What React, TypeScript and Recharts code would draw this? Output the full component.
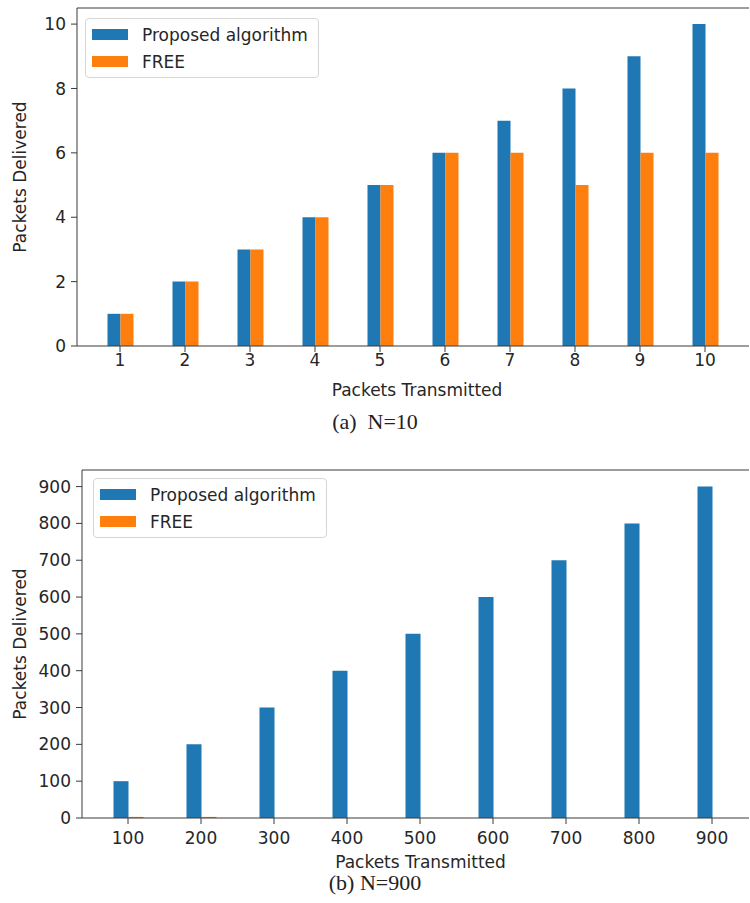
import { BarChart, Bar, XAxis, YAxis, Legend, ReferenceLine } from 'recharts'

// panel (a): N=10
const smallCategories = ['1', '2', '3', '4', '5', '6', '7', '8', '9', '10']
const smallProposed = [1, 2, 3, 4, 5, 6, 7, 8, 9, 10]
const smallFree = [1, 2, 3, 4, 5, 6, 6, 5, 6, 6]
const smallTicks = [0, 2, 4, 6, 8, 10]

// panel (b): N=900
const largeCategories = ['100', '200', '300', '400', '500', '600', '700', '800', '900']
const largeProposed = [100, 200, 300, 400, 500, 600, 700, 800, 900]
const largeFree = [3, 3, 0, 0, 0, 0, 0, 0, 0]
const largeTicks = [0, 100, 200, 300, 400, 500, 600, 700, 800, 900]

const seriesNames = ['Proposed algorithm', 'FREE']

const BLUE = '#1f77b4'
const ORANGE = '#ff7f0e'
const seriesColors = [BLUE, ORANGE]
const TEXT = '#262626'
const AXIS = '#3a3a3a'
const FONT = 'DejaVu Sans'

const smallData = smallCategories.map((c, i) => ({ name: c, proposed: smallProposed[i], free: smallFree[i] }))
const largeData = largeCategories.map((c, i) => ({ name: c, proposed: largeProposed[i], free: largeFree[i] }))

const renderLegend = () => (
  <div
    style={{
      border: '1px solid #d6d6d6',
      borderRadius: 4,
      background: '#fff',
      padding: '2px 10px 2px 6px',
      width: 216,
      fontFamily: FONT,
      whiteSpace: 'nowrap',
    }}
  >
    {seriesNames.map((n, i) => (
      <div key={n} style={{ display: 'flex', alignItems: 'center', height: 27 }}>
        <span style={{ display: 'inline-block', width: 36, height: 11, background: seriesColors[i], marginRight: 14 }} />
        <span style={{ fontSize: 17, color: TEXT }}>{n}</span>
      </div>
    ))}
  </div>
)

function Panel({ data, ticks, max, yWidth, plotHeight, padLeft, padRight, barSize, legendPos, tickGap, labelShift }: any) {
  return (
    <BarChart
      width={750}
      height={8 + plotHeight + 58}
      data={data}
      margin={{ top: 8, right: 1, left: 0, bottom: 0 }}
      barGap={0}
      accessibilityLayer={false}
    >
      <XAxis
        dataKey="name"
        height={58}
        padding={{ left: padLeft, right: padRight }}
        tick={{ fill: TEXT, fontSize: 17, fontFamily: FONT }}
        tickSize={6}
        tickMargin={tickGap}
        stroke={AXIS}
        label={{
          value: 'Packets Transmitted',
          position: 'insideBottom',
          offset: 8,
          dx: labelShift,
          fill: TEXT,
          fontSize: 17,
          fontFamily: FONT,
        }}
      />
      <YAxis
        width={yWidth}
        domain={[0, max]}
        ticks={ticks}
        interval={0}
        tick={{ fill: TEXT, fontSize: 17, fontFamily: FONT }}
        tickSize={6}
        tickMargin={5}
        stroke={AXIS}
        label={{
          value: 'Packets Delivered',
          angle: -90,
          position: 'insideLeft',
          offset: 20,
          fill: TEXT,
          fontSize: 17,
          fontFamily: FONT,
          style: { textAnchor: 'middle' },
        }}
      />
      {/* top spine */}
      <ReferenceLine y={max} stroke={AXIS} />
      <Legend
        layout="vertical"
        align="center"
        verticalAlign="middle"
        content={renderLegend}
        wrapperStyle={{ left: legendPos[0], top: legendPos[1], width: 240, height: 'auto' }}
      />
      <Bar dataKey="proposed" name={seriesNames[0]} fill={BLUE} barSize={barSize} isAnimationActive={false} />
      <Bar dataKey="free" name={seriesNames[1]} fill={ORANGE} barSize={barSize} isAnimationActive={false} />
    </BarChart>
  )
}

const captionStyle: any = {
  position: 'absolute',
  left: 0,
  width: 750,
  textAlign: 'center',
  fontFamily: 'Liberation Serif',
  fontSize: 22,
  color: '#222',
  lineHeight: '24px',
}

export default function App() {
  return (
    <div
      style={{
        position: 'absolute',
        left: 0,
        top: 0,
        width: 750,
        height: 903,
        overflow: 'hidden',
        background: '#fff',
      }}
    >
      <div style={{ position: 'absolute', left: 0, top: 0 }}>
        <Panel
          data={smallData}
          ticks={smallTicks}
          max={10.5}
          yWidth={77}
          plotHeight={338}
          padLeft={10.5}
          padRight={11.5}
          barSize={13}
          legendPos={[85, 18]}
          tickGap={2}
          labelShift={4}
        />
      </div>
      <div style={{ ...captionStyle, top: 410 }}>(a)&nbsp;&nbsp;N=10</div>
      <div style={{ position: 'absolute', left: 0, top: 462 }}>
        <Panel
          data={largeData}
          ticks={largeTicks}
          max={945}
          yWidth={82}
          plotHeight={348}
          padLeft={9.5}
          padRight={0.5}
          barSize={15}
          legendPos={[93, 16]}
          tickGap={8}
          labelShift={5}
        />
      </div>
      <div style={{ ...captionStyle, top: 871 }}>(b) N=900</div>
    </div>
  )
}
